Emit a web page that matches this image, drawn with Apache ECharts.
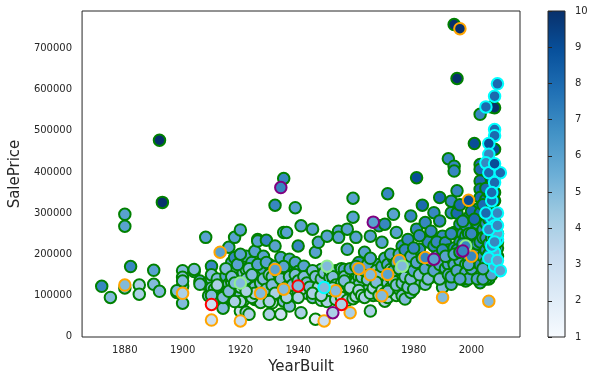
<!DOCTYPE html>
<html>
<head>
<meta charset="utf-8">
<script src="https://cdn.jsdelivr.net/npm/echarts@6/dist/echarts.min.js"></script>
<style>
  html, body { margin: 0; padding: 0; background: #fff; }
  #main { width: 594px; height: 383px; }
</style>
</head>
<body>
<div id="main"></div>
<script>
// [YearBuilt, SalePrice, OverallQual] grouped by SaleCondition (edge colour)
var normalSales = [
    [1872,122000,7],[1875,95000,5],[1880,297000,6],[1880,268000,6],[1880,118000,5],[1882,170000,7],
    [1885,125000,4],[1885,103000,4],[1890,161000,6],[1890,127000,5],[1892,110000,5],[1892,477000,10],
    [1893,326000,10],[1898,107000,5],[1900,160000,5],[1900,144000,5],[1900,122000,5],[1900,81000,5],
    [1900,135000,5],[1904,158000,5],[1906,135000,6],[1908,127000,5],[1908,241000,6],[1906,127000,5],
    [1898,111000,5],[1904,163000,5],[1910,171000,7],[1910,139000,5],[1909,99000,5],[1910,150000,5],
    [1910,118000,5],
    [1911,115000,5],[1912,140000,5],[1913,95000,4],[1914,74000,4],[1914,69000,5],[1914,122000,5],
    [1915,147000,6],[1915,105000,5],[1916,217000,6],[1916,128000,5],[1917,132000,5],[1917,180000,6],
    [1918,159000,5],[1918,241000,6],[1918,192000,7],[1918,95000,4],[1918,115000,5],[1919,140000,5],
    [1920,259000,6],[1920,62000,3],[1920,100000,5],[1920,120000,4],[1920,145000,5],[1920,175000,6],
    [1921,87000,4],[1921,155000,5],[1922,163000,5],[1922,59000,4],[1922,195000,6],[1923,54000,4],
    [1923,110000,5],[1924,111000,5],[1924,135000,5],[1924,180000,6],[1925,156000,6],[1925,207000,6],
    [1925,90000,5],[1926,236000,7],[1926,232000,6],[1926,125000,5],[1927,83000,4],[1927,150000,5],
    [1928,163000,6],[1928,195000,6],[1928,110000,5],[1929,234000,7],[1929,140000,5],[1930,54000,4],
    [1930,120000,5],[1930,175000,6],[1930,100000,5],
    [1910,100000,5],[1912,125000,4],[1914,95000,5],[1915,165000,5],[1916,110000,5],[1917,145000,5],
    [1918,130000,5],[1919,175000,6],[1920,85000,4],[1920,200000,6],[1921,125000,5],[1922,140000,5],
    [1923,165000,5],[1924,150000,5],[1924,95000,4],[1925,120000,5],[1926,175000,6],[1927,130000,5],
    [1928,140000,5],[1929,115000,5],[1929,180000,6],[1930,150000,5],
    [1931,82000,3],[1931,145000,5],[1932,220000,6],[1932,319000,7],[1932,170000,6],[1933,130000,5],
    [1934,192000,6],[1934,54000,3],[1935,384000,7],[1935,86000,5],[1935,253000,6],[1935,115000,5],
    [1936,253000,6],[1936,140000,5],[1936,160000,6],[1937,188000,6],[1937,74000,5],[1937,120000,5],
    [1938,150000,5],[1938,100000,5],[1939,313000,6],[1939,180000,6],[1939,130000,5],[1940,220000,7],
    [1940,158000,6],[1940,110000,5],[1941,269000,6],[1941,58000,4],[1941,140000,5],[1942,171000,6],
    [1942,125000,5],[1943,105000,5],[1944,151000,5],[1945,261000,6],[1945,131000,5],[1945,95000,5],
    [1946,205000,6],[1946,42000,2],[1946,115000,5],[1947,229000,6],[1947,140000,5],[1948,163000,5],
    [1948,120000,5],[1948,88000,4],[1949,135000,5],[1949,105000,4],[1950,244000,6],[1950,150000,5],
    [1950,125000,5],[1950,95000,4],
    [1931,125000,5],[1932,105000,4],[1933,155000,6],[1934,140000,5],[1935,170000,6],[1936,120000,5],
    [1937,145000,5],[1938,125000,5],[1939,150000,5],[1940,135000,5],[1941,115000,4],[1942,145000,5],
    [1943,130000,5],[1944,120000,5],[1945,160000,5],[1946,145000,5],[1947,120000,4],[1948,140000,5],
    [1949,155000,5],
    [1951,143000,5],[1951,115000,5],[1952,128000,5],[1952,100000,4],[1953,140000,5],[1953,160000,6],
    [1954,256000,6],[1954,241000,6],[1954,120000,5],[1954,135000,5],[1955,145000,5],[1955,110000,5],
    [1955,165000,5],[1956,163000,6],[1956,128000,5],[1956,95000,4],[1957,261000,6],[1957,212000,6],
    [1957,138000,5],[1957,118000,5],[1958,131000,5],[1958,148000,5],[1958,105000,4],[1959,336000,6],
    [1959,290000,6],[1959,140000,5],[1959,122000,5],[1960,241000,6],[1960,155000,5],[1960,132000,5],
    [1960,110000,5],[1961,180000,7],[1961,99000,5],[1961,145000,5],[1962,135000,5],[1962,160000,5],
    [1962,118000,5],[1963,205000,6],[1963,140000,5],[1963,125000,5],[1964,150000,5],[1964,128000,5],
    [1965,244000,6],[1965,62000,4],[1965,140000,5],[1965,115000,5],[1966,131000,5],[1966,165000,6],
    [1967,145000,5],[1967,120000,5],[1968,269000,7],[1968,175000,6],[1968,135000,5],[1969,229000,6],
    [1969,150000,5],[1969,125000,5],[1970,273000,7],[1970,86000,4],[1970,140000,5],[1970,160000,5],
    [1950,110000,5],[1951,160000,5],[1952,145000,5],[1953,125000,5],[1954,100000,5],[1955,130000,5],
    [1956,145000,5],[1956,112000,5],[1957,100000,5],[1958,165000,6],[1959,105000,5],[1960,170000,6],
    [1961,125000,5],[1962,145000,5],[1963,110000,5],[1963,160000,6],[1964,112000,5],[1964,175000,6],
    [1965,190000,6],[1966,148000,5],[1966,100000,5],[1967,160000,5],[1967,105000,5],[1968,115000,5],
    [1968,150000,5],[1969,170000,6],[1970,120000,5],[1970,190000,6],
    [1950,85000,4],[1952,118000,4],[1953,90000,4],[1954,108000,4],[1955,95000,4],[1956,135000,5],
    [1957,88000,4],[1958,118000,4],[1959,92000,4],[1960,98000,4],[1961,112000,4],[1962,100000,4],
    [1963,95000,4],[1964,138000,5],[1965,105000,4],[1966,118000,4],[1967,132000,5],[1968,100000,4],
    [1969,112000,4],[1970,105000,4],[1971,95000,4],[1972,130000,5],[1973,115000,4],[1974,100000,4],
    [1976,112000,4],[1977,118000,5],[1978,105000,4],[1940,95000,4],[1945,105000,4],[1948,100000,4],
    [1925,105000,4],[1922,110000,4],[1918,85000,4],[1930,85000,4],[1936,95000,4],
    [1971,347000,7],[1971,175000,6],[1971,130000,5],[1972,163000,5],[1972,145000,5],[1972,118000,5],
    [1973,297000,6],[1973,190000,6],[1974,253000,6],[1974,155000,5],[1975,115000,5],[1975,140000,5],
    [1976,220000,7],[1976,99000,5],[1976,160000,5],[1977,91000,5],[1977,175000,6],[1977,130000,5],
    [1978,236000,7],[1978,204000,6],[1978,145000,5],[1979,293000,7],[1979,107000,5],[1979,165000,6],
    [1980,185000,6],[1980,135000,5],[1981,386000,9],[1981,261000,7],[1981,150000,5],[1982,212000,7],
    [1982,130000,5],[1983,319000,8],[1983,155000,6],[1984,277000,7],[1984,127000,5],[1985,175000,6],
    [1985,230000,7],[1986,256000,7],[1986,145000,5],[1987,301000,7],[1987,220000,7],[1988,159000,6],
    [1988,195000,6],[1989,338000,8],[1989,281000,7],[1990,244000,7],[1990,119000,5],[1990,180000,6],
    [1971,110000,5],[1972,200000,6],[1973,135000,5],[1973,160000,6],[1974,180000,6],[1974,125000,5],
    [1975,200000,6],[1975,165000,5],[1976,130000,5],[1976,185000,6],[1977,145000,5],[1977,210000,7],
    [1978,120000,5],[1978,170000,6],[1979,140000,5],[1979,195000,6],[1980,160000,6],[1980,215000,7],
    [1980,115000,5],[1981,180000,6],[1982,150000,5],[1982,245000,7],[1983,190000,6],[1984,165000,6],
    [1985,140000,5],[1986,185000,6],[1987,160000,6],[1988,230000,7],[1989,175000,6],[1989,140000,5],
    [1991,228000,7],[1991,165000,6],[1992,432000,7],[1992,176000,6],[1992,210000,7],[1993,329000,7],
    [1993,301000,7],[1993,127000,6],[1993,190000,6],[1994,758000,10],[1994,414000,7],[1994,402000,7],
    [1994,253000,7],[1994,215000,7],[1995,627000,10],[1995,354000,7],[1995,180000,6],[1996,273000,7],
    [1996,159000,6],[1996,230000,7],[1997,190000,6],[1997,250000,7],[1998,244000,7],[1998,135000,6],
    [1998,200000,7],[1999,289000,8],[1999,163000,6],[1999,220000,7],[2000,261000,7],[2000,180000,6],
    [2000,145000,6],[2001,469000,9],[2001,224000,7],[2001,185000,6],[2002,309000,8],[2002,240000,7],
    [2002,165000,6],[2003,540000,7],[2003,418000,8],[2003,406000,8],[2003,378000,8],[2003,358000,8],
    [2003,338000,8],[2003,131000,6],[2003,200000,7],[2003,260000,7],[2004,293000,8],[2004,151000,6],
    [2004,225000,7],[2004,180000,7],[2005,333000,8],[2005,250000,7],[2005,195000,7],[2005,160000,6],
    [2005,300000,8],[2006,317000,8],[2006,270000,7],[2006,215000,7],[2006,175000,7],[2006,140000,6],
    [2007,558000,10],[2007,280000,8],[2007,230000,7],[2007,190000,7],[2008,556000,10],[2008,455000,9],
    [2008,250000,8],[2008,200000,7],[2008,160000,6],[2009,215000,7],
    [1990,210000,7],[1991,195000,6],[1992,150000,6],[1993,250000,7],[1994,175000,6],[1995,210000,7],
    [1995,300000,8],[1996,185000,6],[1996,320000,8],[1997,160000,6],[1997,225000,7],[1998,175000,6],
    [1998,270000,7],[1999,190000,7],[1999,250000,7],[2000,220000,7],[2000,305000,8],[2001,160000,6],
    [2001,250000,7],[2002,200000,7],[2002,275000,7],[2003,150000,6],[2003,300000,8],[2004,210000,7],
    [2004,260000,7],[2004,320000,8],[2005,140000,6],[2005,225000,7],[2005,275000,7],[2006,155000,6],
    [2006,240000,7],[2006,300000,8],[2006,350000,9],[2007,170000,6],[2007,210000,7],[2007,255000,8],
    [2007,310000,8],[2007,380000,9],[2008,180000,7],[2008,225000,7],[2008,280000,8],[2008,330000,9],
    [2008,390000,9],[2009,195000,7],
    [1993,145000,6],[1994,200000,6],[1995,160000,6],[1996,205000,7],[1997,140000,6],[1997,280000,7],
    [1998,155000,6],[1999,140000,6],[2000,250000,7],[2000,165000,6],[2001,200000,7],[2001,285000,8],
    [2002,180000,7],[2002,140000,6],[2002,225000,7],[2003,175000,7],[2003,230000,7],[2004,195000,7],
    [2004,240000,7],[2004,140000,6],[2005,180000,7],[2005,210000,7],[2005,240000,7],[2005,360000,8],
    [2006,200000,7],[2006,225000,7],[2006,285000,8],[2006,165000,6],[2007,150000,6],[2007,240000,7],
    [2007,265000,8],[2007,295000,8],[2008,210000,7],[2008,240000,7],[2008,300000,8],[2008,350000,9],
    [2009,230000,7],[2009,250000,8],[1996,140000,6],[1999,175000,6],[2004,165000,6]
];
var abnormlSales = [
    [1880,125000,5],[1900,105000,4],[1910,40000,3],[1913,205000,6],[1920,38000,3],[1932,163000,6],
    [1935,115000,5],[1949,38000,3],[1953,111000,5],[1958,58000,4],[1969,99000,5],[1971,151000,6],
    [1984,192000,7],[1990,95000,5],[1996,748000,10],[1999,331000,9],[2006,86000,5],[1965,150000,5],
    [1975,185000,6],[2000,195000,7],[1927,105000,5],[1961,165000,6]
];
var familySales = [[1950,171000,5],[1976,171000,5],[1998,220000,7],[1920,130000,5]];
var allocaSales = [[1910,78000,3],[1940,123000,5],[1955,78000,4]];
var adjLandSales = [[1934,362000,7],[1952,58000,4],[1966,278000,6],[1987,188000,6],[1997,208000,7]];
var partialSales = [
    [1949,119000,5],[2009,614000,8],[2008,584000,8],[2005,558000,8],[2008,503000,8],[2008,488000,8],
    [2006,469000,9],[2006,443000,7],[2005,422000,7],[2006,398000,8],[2010,398000,8],[2008,374000,8],
    [2007,289000,7],[2008,269000,7],[2009,236000,7],[2008,204000,6],[2008,171000,6],[2007,330000,8],
    [2009,300000,7],[2009,250000,6],[2007,220000,7],[2006,190000,6],[2009,185000,6],[2010,160000,6],
    [2006,260000,7],[2007,350000,8],[2008,420000,9],[2005,300000,8],[2009,270000,7],[2008,230000,7]
];

var xTicks = [1880, 1900, 1920, 1940, 1960, 1980, 2000];
var yTicks = [0, 100000, 200000, 300000, 400000, 500000, 600000, 700000];
var qualTicks = [1, 2, 3, 4, 5, 6, 7, 8, 9, 10];

// matplotlib "Blues"
var blues = ['#f7fbff', '#deebf7', '#c6dbef', '#9ecae1', '#6baed6', '#4292c6', '#2171b5', '#08519c', '#08306b'];
var ink = '#262626';
var font = 'DejaVu Sans';

function edgeSeries(name, data, edge) {
    return {
        name: name,
        type: 'scatter',
        xAxisIndex: 0,
        yAxisIndex: 0,
        data: data,
        symbol: 'circle',
        symbolSize: 11.5,
        itemStyle: { borderColor: edge, borderWidth: 2, opacity: 1 },
        emphasis: { disabled: true },
        animation: false
    };
}

var gradStops = blues.map(function (c, i) {
    return { offset: i / (blues.length - 1), color: c };
});

var chart = echarts.init(document.getElementById('main'));
chart.setOption({
    animation: false,
    textStyle: { fontFamily: font, color: ink },
    grid: [
        { left: 74, top: 11, width: 446, height: 326, show: true, borderColor: ink, borderWidth: 1, backgroundColor: '#fff' },
        {
            left: 548, top: 11, width: 17, height: 326, show: true, borderColor: ink, borderWidth: 1,
            backgroundColor: { type: 'linear', x: 0, y: 1, x2: 0, y2: 0, colorStops: gradStops }
        }
    ],
    xAxis: [{
        gridIndex: 0,
        type: 'value',
        min: 1865.2,
        max: 2016.8,
        name: 'YearBuilt',
        nameLocation: 'middle',
        nameGap: 22,
        nameTextStyle: { fontSize: 15, color: ink, fontFamily: font },
        axisLine: { show: false },
        axisTick: { show: false },
        splitLine: { show: false },
        axisLabel: {
            customValues: xTicks, fontSize: 10, color: ink, fontFamily: font, margin: 8,
            formatter: function (v) { return String(v); }
        }
    }, {
        gridIndex: 1, type: 'value', min: 0, max: 1, show: false
    }],
    yAxis: [{
        gridIndex: 0,
        type: 'value',
        min: -1100,
        max: 791000,
        name: 'SalePrice',
        nameLocation: 'middle',
        nameGap: 52,
        nameTextStyle: { fontSize: 15, color: ink, fontFamily: font },
        axisLine: { show: false },
        axisTick: { show: false },
        splitLine: { show: false },
        axisLabel: {
            customValues: yTicks, fontSize: 10, color: ink, fontFamily: font, margin: 10,
            formatter: function (v) { return String(v); }
        }
    }, {
        gridIndex: 1,
        type: 'value',
        position: 'right',
        min: 1,
        max: 10,
        interval: 1,
        axisLine: { show: false },
        axisTick: { show: true, length: 4, lineStyle: { color: ink, width: 1 }, customValues: qualTicks },
        splitLine: { show: false },
        axisLabel: { customValues: qualTicks, fontSize: 10, color: ink, fontFamily: font, margin: 10 }
    }],
    visualMap: {
        type: 'continuous',
        show: false,
        dimension: 2,
        min: 1,
        max: 10,
        seriesIndex: [0, 1, 2, 3, 4, 5],
        inRange: { color: blues }
    },
    series: [
        edgeSeries('Normal', normalSales, 'green'),
        edgeSeries('Abnorml', abnormlSales, 'orange'),
        edgeSeries('Family', familySales, '#90ee90'),
        edgeSeries('Alloca', allocaSales, 'red'),
        edgeSeries('AdjLand', adjLandSales, 'purple'),
        edgeSeries('Partial', partialSales, 'cyan')
    ]
});
</script>
</body>
</html>
